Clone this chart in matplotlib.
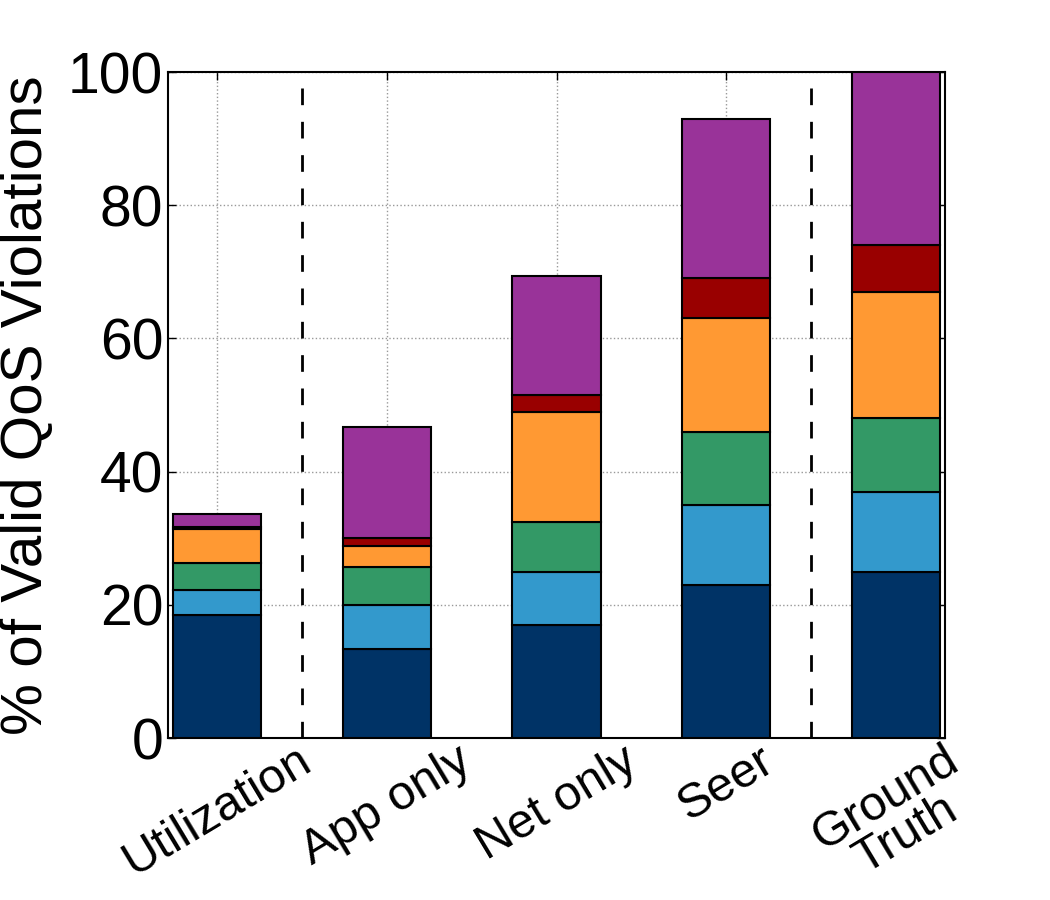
import matplotlib
matplotlib.use("Agg")
import matplotlib.pyplot as plt
import numpy as np

plt.rcParams['font.family'] = ['Liberation Sans', 'DejaVu Sans']

methods = ['Utilization', 'App only', 'Net only', 'Seer', 'Ground\nTruth']
# stacked segments, bottom to top
seg1 = [18.4, 13.4, 17.0, 23.0, 25.0]
seg2 = [3.8, 6.5, 8.0, 12.0, 12.0]
seg3 = [4.1, 5.8, 7.5, 11.0, 11.0]
seg4 = [5.1, 3.1, 16.5, 17.0, 19.0]
seg5 = [0.3, 1.3, 2.5, 6.0, 7.0]
seg6 = [2.0, 16.6, 17.8, 24.0, 26.0]
segments = [seg1, seg2, seg3, seg4, seg5, seg6]
colors = ['#003366', '#3399cc', '#339966', '#ff9933', '#990000', '#993399']
separators = [0.5, 3.5]

fig = plt.figure(figsize=(10.5, 9), dpi=100)
ax = fig.add_axes([0.16, 0.18, 0.74, 0.74])

x = np.arange(len(methods))
bottom = np.zeros(len(methods))
for seg, c in zip(segments, colors):
    ax.bar(x, seg, 0.52, bottom=bottom, color=c, edgecolor='black', linewidth=1.5, zorder=3)
    bottom += np.array(seg)

for s in separators:
    ax.axvline(s, color='black', linestyle=(0, (6, 6)), linewidth=2, zorder=2)

ax.set_xlim(-0.29, 4.29)
ax.set_ylim(0, 100)
ax.set_yticks([0, 20, 40, 60, 80, 100])
ax.set_xticks(x)
ax.set_xticklabels(methods, rotation=31, ha='center', fontsize=35, linespacing=0.9)
ax.tick_params(axis='y', labelsize=41)
ax.tick_params(axis='x', pad=0)
ax.tick_params(direction='in', top=True, right=True, length=6, width=1)
ax.grid(True, linestyle=':', color='#999999', linewidth=1, zorder=0)
ax.set_ylabel('% of Valid QoS Violations', fontsize=42, labelpad=10)
for sp in ax.spines.values():
    sp.set_linewidth(1.5)

fig.savefig('out.png', dpi=100)
